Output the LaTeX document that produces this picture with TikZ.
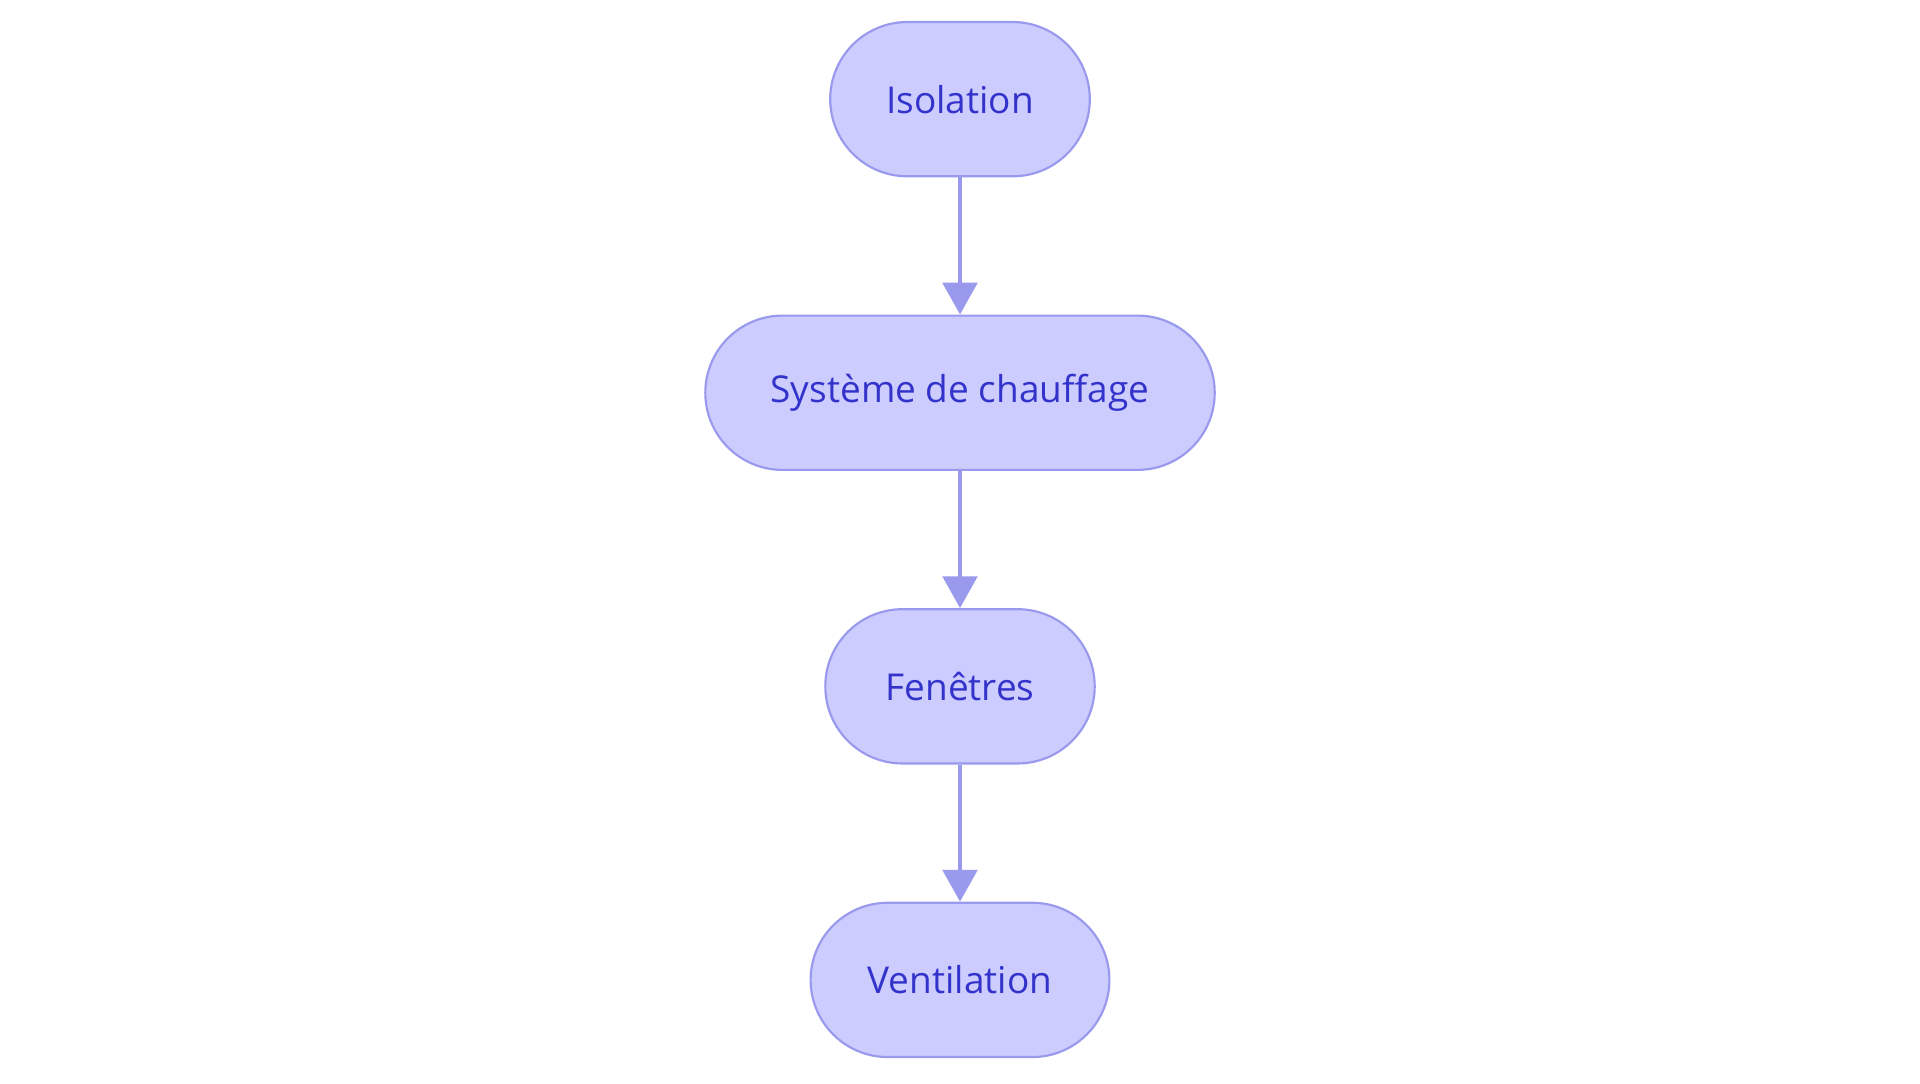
\documentclass[tikz,border=0pt]{standalone}
\usepackage{fontspec}
\setmainfont{Open Sans}
\usetikzlibrary{positioning,arrows.meta}
\definecolor{boxfill}{HTML}{CCCCFF}
\definecolor{boxline}{HTML}{9999EE}
\definecolor{boxtext}{HTML}{3333CC}
\begin{document}
\begin{tikzpicture}
[every node/.style={draw=boxline,fill=boxfill,line width=0.5pt,rounded corners=0.63cm,
   minimum height=1.26cm,inner sep=0mm,text=boxtext,font=\fontsize{8.6}{10}\selectfont},
 flow/.style={draw=boxline,line width=1.1pt,-{Triangle[width=2.8mm,length=2.6mm,fill=boxline]}}]
\useasboundingbox (0,0) rectangle (15.68,-8.845);
\node[minimum width=2.12cm] (iso) at (7.84,-0.81)      {Isolation};
\node[minimum width=4.16cm] (chauf) [below=1.12cm of iso]   {Système de chauffage};
\node[minimum width=2.20cm] (fen)   [below=1.12cm of chauf] {Fenêtres};
\node[minimum width=2.44cm] (vent)  [below=1.12cm of fen]   {Ventilation};
\path[flow] (iso)   edge (chauf);
\path[flow] (chauf) edge (fen);
\path[flow] (fen)   edge (vent);
\end{tikzpicture}
\end{document}
